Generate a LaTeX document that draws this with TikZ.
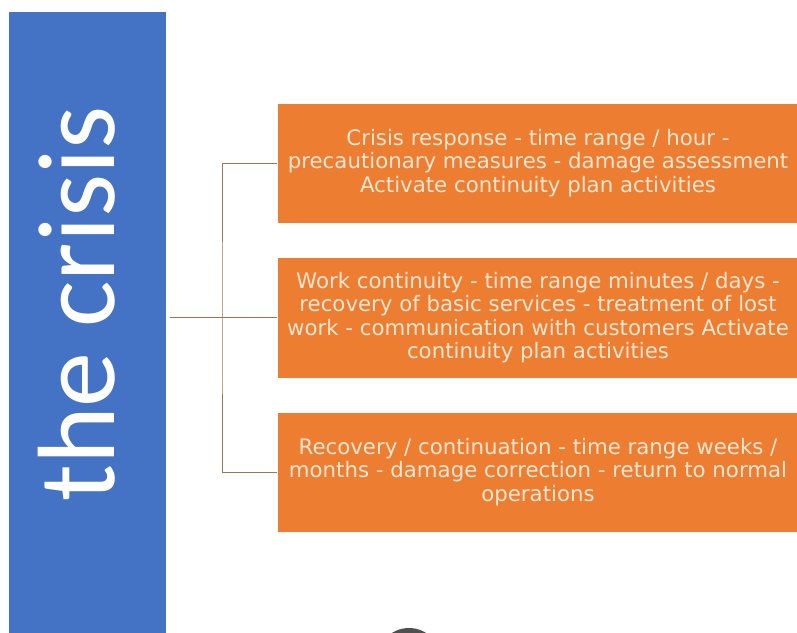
\documentclass[tikz,border=0pt]{standalone}
\usepackage{fontspec}
\setmainfont{DejaVu Sans}
\newfontfamily\titlefont{Carlito}
\definecolor{barblue}{HTML}{4472C4}
\definecolor{boxorange}{HTML}{ED7D31}
\definecolor{boxtext}{HTML}{FCE6D2}
\definecolor{linkbrown}{HTML}{A37352}
\definecolor{blobgrey}{HTML}{505050}
\tikzset{
  phasebox/.style={rectangle, fill=boxorange, draw=white, line width=0.6pt,
    minimum width=522pt, minimum height=120pt, inner sep=0pt,
    text=boxtext, align=center,
    font=\fontsize{21.3}{23.4}\selectfont},
  linkline/.style={draw=linkbrown, line width=1pt},
}
\begin{document}
\begin{tikzpicture}[x=1pt,y=-1pt]
  \useasboundingbox (0,0) rectangle (797,632);
  \fill[white] (0,0) rectangle (797,632);
  \begin{scope}
    \clip (0,0) rectangle (797,632);
    % blue side bar
    \node[rectangle, fill=barblue, inner sep=0pt, anchor=north west,
      minimum width=157pt, minimum height=640pt] (bar) at (9,12) {};
    \node[rotate=90, anchor=base, text=white, inner sep=0pt,
      font=\titlefont\fontsize{110}{110}\selectfont] (title) at (114,304) {the crisis};
    % phase boxes
    \node[phasebox] (box1) at (538,163) {Crisis response - time range / hour -\\precautionary measures - damage assessment\\Activate continuity plan activities};
    \node[phasebox, minimum height=121pt] (box2) at (538,317.5) {Work continuity - time range minutes / days -\\recovery of basic services - treatment of lost\\work - communication with customers Activate\\continuity plan activities};
    \node[phasebox] (box3) at (538,472) {Recovery / continuation - time range weeks /\\months - damage correction - return to normal\\operations};
    % connectors
    \coordinate (hub) at (170,317.5);
    \coordinate (spine) at (222,317.5);
    \draw[linkline] (hub) -- (box2.west);
    \draw[linkline] (box1.west) -| (spine) |- (box3.west);
    % partial grey shape at bottom edge
    \node[circle, fill=blobgrey, minimum size=64pt, inner sep=0pt] (blob) at (409,660) {};
  \end{scope}
\end{tikzpicture}
\end{document}
